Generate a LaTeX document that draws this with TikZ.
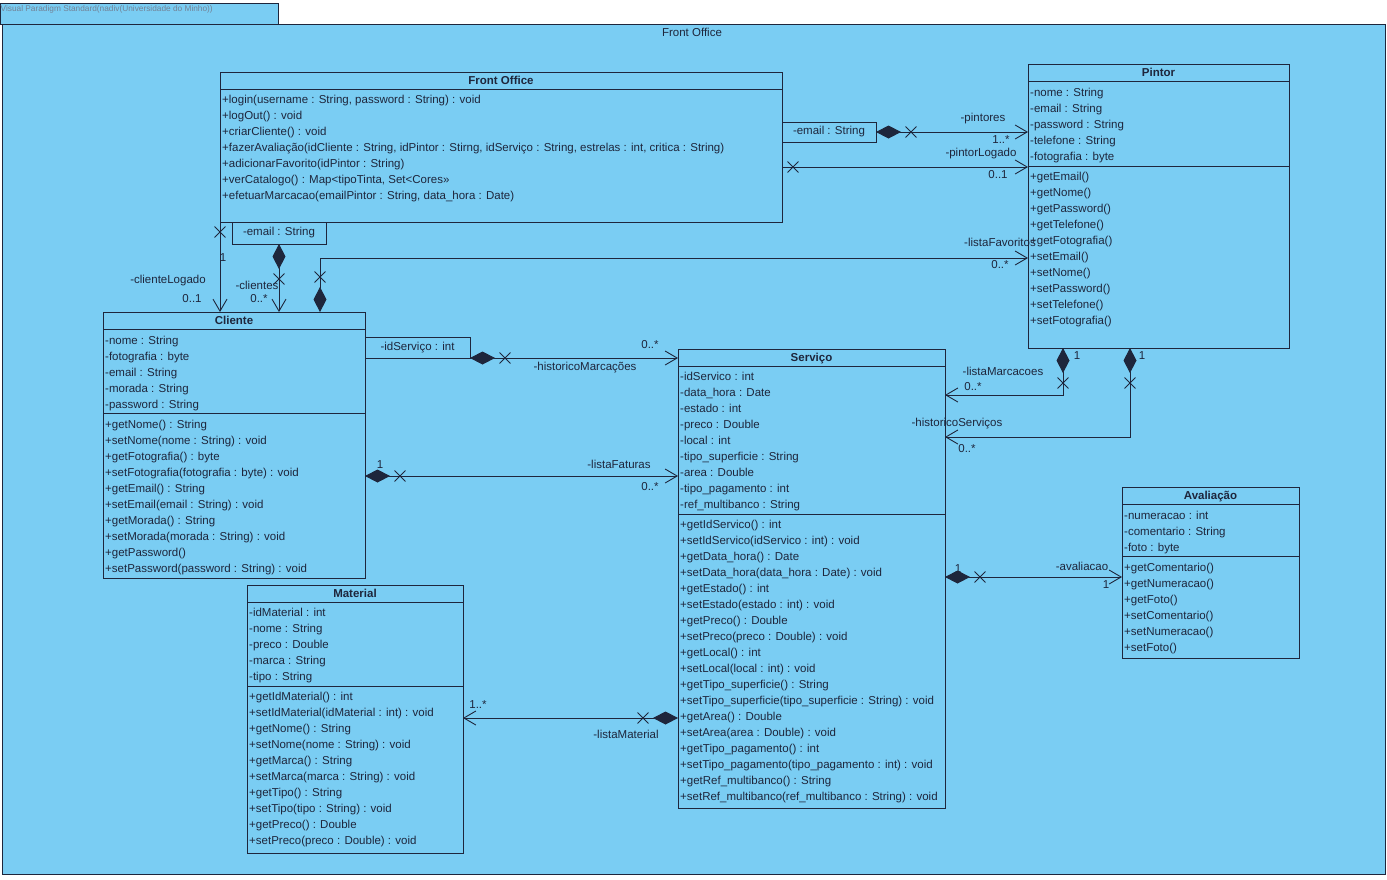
\documentclass[tikz,border=0pt]{standalone}
\usepackage{fontspec}
\setmainfont{Liberation Sans}
\usetikzlibrary{arrows.meta,calc,shapes.misc}
\definecolor{bgblue}{RGB}{122,205,243}
\definecolor{ink}{RGB}{30,38,60}
\definecolor{tabtext}{RGB}{115,130,150}
\newcommand{\umlfont}{\fontsize{11.5}{13}\selectfont}
\tikzset{
 box/.style={draw=ink, line width=0.9pt, fill=bgblue, rectangle, inner sep=0pt, outer sep=0pt},
 row/.style={anchor=base west, inner sep=0pt, font=\umlfont, text=ink},
 ctitle/.style={anchor=base, inner sep=0pt, font=\umlfont\bfseries, text=ink},
 lbl/.style={inner sep=0pt, font=\umlfont, text=ink},
 conn/.style={draw=ink, line width=0.9pt},
 comp/.style={conn, {Diamond[length=25pt,width=13pt]}-{Straight Barb[length=12pt,width=14pt]}},
 nav/.style={conn, -{Straight Barb[length=12pt,width=14pt]}},
 xmark/.style={draw=ink, cross out, line width=0.9pt, minimum size=10pt, inner sep=0pt},
}
\newcommand{\umlclass}[7]{%
 \node[box, minimum width=#4pt, minimum height=#5pt, anchor=north west] (#1) at (#2,#3) {};
 \node[ctitle] (#1-title) at ({#2+#4/2},{#3+12.5}) {#6};
 \draw[draw=ink, line width=0.9pt] (#2,{#3+17}) -- ({#2+#4},{#3+17});
 \draw[draw=ink, line width=0.9pt] (#2,#7) -- ({#2+#4},#7);
}
\newcommand{\classrows}[4]{%
 \foreach \txt [count=\i, evaluate=\i as \yy using #3+16*\i-12] in {#4} {\node[row] (#1\i) at (#2,\yy) {\txt};}%
}
\begin{document}
\begin{tikzpicture}[x=1pt,y=-1pt]
\useasboundingbox (0,0) rectangle (1387,879);
% frame and tab
\node[box, minimum width=1383pt, minimum height=850pt, anchor=north west] (frame) at (2,24) {};
\node[box, minimum width=278pt, minimum height=21pt, anchor=north west] (tab) at (0,3) {};
\node[anchor=west, inner sep=0pt, font=\fontsize{8.3}{9}\selectfont, text=tabtext] (tabtxt) at (0.5,9) {Visual Paradigm Standard(nadiv(Universidade do Minho))};
\node[lbl] (frametitle) at (692,32) {Front Office};

% Front Office
\node[box, minimum width=562pt, minimum height=150pt, anchor=north west] (fo) at (220,72) {};
\node[ctitle] (fo-title) at (501,84.5) {Front Office};
\draw[draw=ink, line width=0.9pt] (220,89) -- (782,89);
\classrows{fo-m}{222}{99}{{+login(username : String, password : String) : void},{+logOut() : void},{+criarCliente() : void},{+fazerAvaliação(idCliente : String, idPintor : Stirng, idServiço : String, estrelas : int, critica : String)},{+adicionarFavorito(idPintor : String)},{+verCatalogo() : Map<tipoTinta, Set<Cores>>},{+efetuarMarcacao(emailPintor : String, data\_hora : Date)}}
\node[box, minimum width=94pt, minimum height=22pt, anchor=north west, font=\umlfont, text=ink] (foq1) at (232,222) {-email : String};
\node[box, minimum width=94pt, minimum height=20pt, anchor=north west, font=\umlfont, text=ink] (foq2) at (782,122) {-email : String};

% Pintor
\umlclass{pin}{1028}{64}{261}{284}{Pintor}{166}
\classrows{pin-a}{1030}{92}{{-nome : String},{-email : String},{-password : String},{-telefone : String},{-fotografia : byte}}
\classrows{pin-m}{1030}{176}{{+getEmail()},{+getNome()},{+getPassword()},{+getTelefone()},{+getFotografia()},{+setEmail()},{+setNome()},{+setPassword()},{+setTelefone()},{+setFotografia()}}

% Cliente
\umlclass{cli}{103}{312}{262}{266}{Cliente}{413}
\classrows{cli-a}{105}{340}{{-nome : String},{-fotografia : byte},{-email : String},{-morada : String},{-password : String}}
\classrows{cli-m}{105}{424}{{+getNome() : String},{+setNome(nome : String) : void},{+getFotografia() : byte},{+setFotografia(fotografia : byte) : void},{+getEmail() : String},{+setEmail(email : String) : void},{+getMorada() : String},{+setMorada(morada : String) : void},{+getPassword()},{+setPassword(password : String) : void}}
\node[box, minimum width=105pt, minimum height=21pt, anchor=north west, font=\umlfont, text=ink] (cliq) at (365,337) {-idServiço : int};

% Servico
\umlclass{ser}{678}{349}{267}{459}{Serviço}{514}
\classrows{ser-a}{680}{376}{{-idServico : int},{-data\_hora : Date},{-estado : int},{-preco : Double},{-local : int},{-tipo\_superficie : String},{-area : Double},{-tipo\_pagamento : int},{-ref\_multibanco : String}}
\classrows{ser-m}{680}{524}{{+getIdServico() : int},{+setIdServico(idServico : int) : void},{+getData\_hora() : Date},{+setData\_hora(data\_hora : Date) : void},{+getEstado() : int},{+setEstado(estado : int) : void},{+getPreco() : Double},{+setPreco(preco : Double) : void},{+getLocal() : int},{+setLocal(local : int) : void},{+getTipo\_superficie() : String},{+setTipo\_superficie(tipo\_superficie : String) : void},{+getArea() : Double},{+setArea(area : Double) : void},{+getTipo\_pagamento() : int},{+setTipo\_pagamento(tipo\_pagamento : int) : void},{+getRef\_multibanco() : String},{+setRef\_multibanco(ref\_multibanco : String) : void}}

% Avaliacao
\umlclass{ava}{1122}{487}{177}{171}{Avaliação}{556}
\classrows{ava-a}{1124}{515}{{-numeracao : int},{-comentario : String},{-foto : byte}}
\classrows{ava-m}{1124}{567}{{+getComentario()},{+getNumeracao()},{+getFoto()},{+setComentario()},{+setNumeracao()},{+setFoto()}}

% Material
\umlclass{mat}{247}{585}{216}{268}{Material}{686}
\classrows{mat-a}{249}{612}{{-idMaterial : int},{-nome : String},{-preco : Double},{-marca : String},{-tipo : String}}
\classrows{mat-m}{249}{696}{{+getIdMaterial() : int},{+setIdMaterial(idMaterial : int) : void},{+getNome() : String},{+setNome(nome : String) : void},{+getMarca() : String},{+setMarca(marca : String) : void},{+getTipo() : String},{+setTipo(tipo : String) : void},{+getPreco() : Double},{+setPreco(preco : Double) : void}}

% ---- connectors ----
% pintores
\draw[comp] (foq2.east) -- (pin.west |- foq2.east);
\node[xmark] (x1) at ($(foq2.east)+(35,0)$) {};
\node[lbl] (l1a) at (983,119) {-pintores};
\node[lbl] (l1b) at (1001,140) {1..*};
% pintorLogado
\coordinate (c2s) at ($(fo.north east)+(0,95)$);
\draw[nav] (c2s) -- (pin.west |- c2s);
\node[xmark] (x2) at ($(c2s)+(11,0)$) {};
\node[lbl] (l2a) at (981,154) {-pintorLogado};
\node[lbl] (l2b) at (998,175) {0..1};
% clienteLogado
\draw[nav] (fo.south west) -- (cli.north -| fo.south west);
\node[xmark] (x3) at ($(fo.south west)+(0,10)$) {};
\node[lbl] (l3a) at (223,258) {1};
\node[lbl] (l3b) at (168,281) {-clienteLogado};
\node[lbl] (l3c) at (192,299) {0..1};
% clientes
\draw[comp] (foq1.south) -- (cli.north -| foq1.south);
\node[xmark] (x4) at ($(foq1.south)+(0,35)$) {};
\node[lbl] (l4a) at (257,285) {-clientes};
\node[lbl] (l4b) at (259,299) {0..*};
% listaFavoritos
\coordinate (c5s) at ($(cli.north west)+(217,0)$);
\coordinate (c5e) at ($(pin.north west)+(0,194)$);
\draw[comp] (c5s) |- (c5e);
\node[xmark] (x5) at ($(c5s)+(0,-35)$) {};
\node[lbl] (l5a) at (1000,242) {-listaFavoritos};
\node[lbl] (l5b) at (1000,265) {0..*};
% historicoMarcacoes
\draw[comp] (cliq.south east) -- (ser.west |- cliq.south east);
\node[xmark] (x6) at ($(cliq.south east)+(35,0)$) {};
\node[lbl] (l6a) at (650,345) {0..*};
\node[lbl] (l6b) at (585,368) {-historicoMarcações};
% listaFaturas
\coordinate (c7s) at ($(cli.north east)+(0,164)$);
\draw[comp] (c7s) -- (ser.west |- c7s);
\node[xmark] (x7) at ($(c7s)+(35,0)$) {};
\node[lbl] (l7a) at (380,465) {1};
\node[lbl] (l7b) at (619,464) {-listaFaturas};
\node[lbl] (l7c) at (650,487) {0..*};
% listaMarcacoes
\coordinate (c8s) at ($(pin.south west)+(35,0)$);
\coordinate (c8e) at ($(ser.north east)+(0,46)$);
\draw[comp] (c8s) |- (c8e);
\node[xmark] (x8) at ($(c8s)+(0,35)$) {};
\node[lbl] (l8a) at (1077,356) {1};
\node[lbl] (l8b) at (1003,371) {-listaMarcacoes};
\node[lbl] (l8c) at (973,387) {0..*};
% historicoServicos
\coordinate (c9s) at ($(pin.south west)+(102,0)$);
\coordinate (c9e) at ($(ser.north east)+(0,88)$);
\draw[comp] (c9s) |- (c9e);
\node[xmark] (x9) at ($(c9s)+(0,35)$) {};
\node[lbl] (l9a) at (1142,356) {1};
\node[lbl] (l9b) at (957,424) {-historicoServiços};
\node[lbl] (l9c) at (967,449) {0..*};
% avaliacao
\coordinate (c10s) at ($(ser.north east)+(0,228)$);
\draw[comp] (c10s) -- (ava.west |- c10s);
\node[xmark] (x10) at ($(c10s)+(35,0)$) {};
\node[lbl] (l10a) at (958,569) {1};
\node[lbl] (l10b) at (1082,566) {-avaliacao};
\node[lbl] (l10c) at (1106,585) {1};
% listaMaterial
\coordinate (c11s) at ($(ser.north west)+(0,369)$);
\draw[comp] (c11s) -- (mat.east |- c11s);
\node[xmark] (x11) at ($(c11s)+(-35,0)$) {};
\node[lbl] (l11a) at (478,705) {1..*};
\node[lbl] (l11b) at (626,734) {-listaMaterial};
\end{tikzpicture}
\end{document}
